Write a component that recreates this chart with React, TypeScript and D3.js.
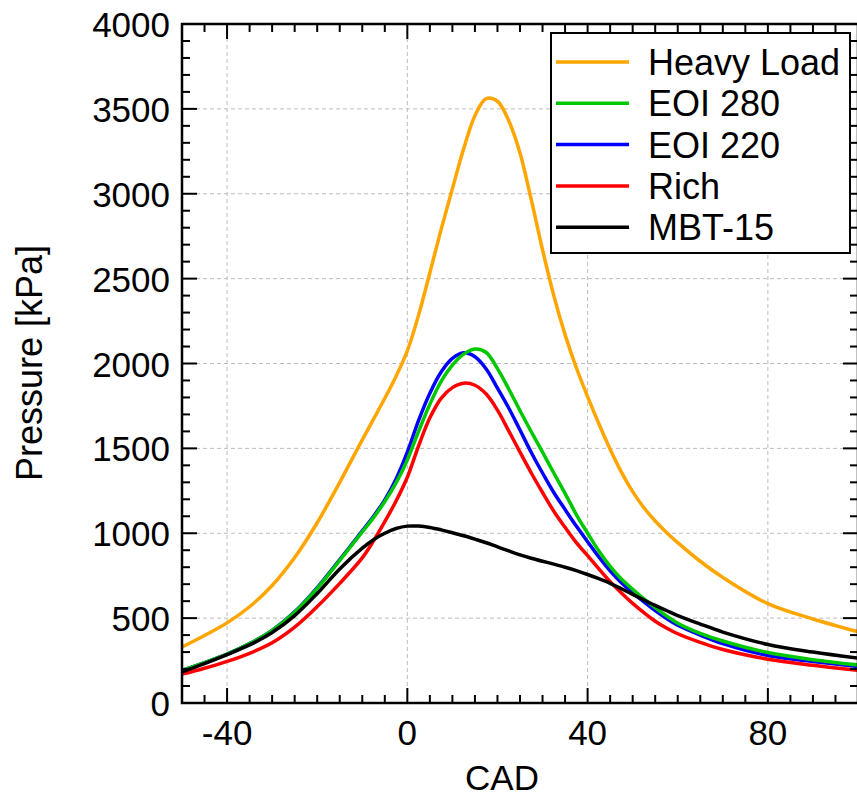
import * as d3 from 'd3';
import { useEffect, useRef } from 'react';

// crank angle grid (deg)
const cad = [-50, -45, -40, -35, -30, -25, -20, -15, -10, -7.5, -5, -2.5, 0, 2.5, 5, 7.5, 10, 12.5, 15, 17.5, 20, 22.5, 25, 27.5, 30, 32.5, 35, 37.5, 40, 42.5, 45, 47.5, 50, 52.5, 55, 57.5, 60, 65, 70, 80, 90, 100];

// pressure [kPa] per case
const heavyLoad = [330, 398, 472, 567, 692, 857, 1062, 1300, 1550, 1672, 1795, 1925, 2075, 2285, 2535, 2790, 3030, 3265, 3460, 3560, 3545, 3430, 3240, 2965, 2670, 2400, 2170, 1975, 1805, 1645, 1495, 1360, 1245, 1150, 1072, 1005, 945, 835, 740, 585, 495, 420];
const eoi280 = [192, 238, 288, 350, 428, 535, 675, 840, 1008, 1092, 1187, 1297, 1432, 1600, 1760, 1895, 1990, 2055, 2085, 2065, 1970, 1850, 1722, 1598, 1478, 1355, 1235, 1110, 1000, 895, 805, 730, 670, 613, 562, 513, 470, 410, 365, 297, 255, 224];
const eoi220 = [192, 238, 288, 350, 428, 537, 680, 845, 1014, 1100, 1197, 1320, 1478, 1665, 1825, 1950, 2030, 2063, 2040, 1968, 1855, 1738, 1608, 1476, 1355, 1240, 1140, 1042, 950, 860, 778, 708, 650, 595, 544, 498, 458, 400, 350, 280, 245, 214];
const rich = [170, 205, 245, 293, 355, 447, 568, 705, 855, 955, 1068, 1190, 1330, 1515, 1680, 1795, 1858, 1884, 1872, 1820, 1725, 1603, 1478, 1355, 1240, 1130, 1035, 945, 868, 790, 715, 648, 587, 532, 482, 442, 408, 357, 315, 258, 222, 192];
const mbt15 = [184, 232, 285, 342, 415, 515, 645, 790, 912, 962, 1000, 1028, 1042, 1042, 1034, 1020, 1003, 985, 965, 944, 920, 896, 873, 853, 835, 818, 800, 780, 757, 732, 705, 673, 640, 607, 575, 545, 515, 465, 418, 345, 300, 264];

const seriesNames = ['Heavy Load', 'EOI 280', 'EOI 220', 'Rich', 'MBT-15'];
const seriesColors = ['#FFA500', '#00C800', '#0000FF', '#FF0000', '#000000'];
const seriesValues = [heavyLoad, eoi280, eoi220, rich, mbt15];
const drawOrder = [0, 2, 1, 3, 4];

const xLabelTicks = [-40, 0, 40, 80];
const yLabelTicks = [0, 500, 1000, 1500, 2000, 2500, 3000, 3500, 4000];

const FONT = 'Liberation Sans, Arial, sans-serif';

const PressureChart = () => {
  const ref = useRef(null);

  useEffect(() => {
    const W = 857,
      H = 798;
    const left = 182,
      right = 858,
      top = 24,
      bottom = 703;

    const svg = d3.select(ref.current).attr('width', W).attr('height', H);
    svg.selectAll('*').remove();

    const x = d3.scaleLinear().domain([-50, 100]).range([left, right]);
    const y = d3.scaleLinear().domain([0, 4000]).range([bottom, top]);

    svg
      .append('defs')
      .append('clipPath')
      .attr('id', 'plotclip')
      .append('rect')
      .attr('x', left)
      .attr('y', top)
      .attr('width', right - left)
      .attr('height', bottom - top);

    // grid
    const grid = svg.append('g');
    xLabelTicks.forEach((t) => {
      grid
        .append('line')
        .attr('x1', x(t))
        .attr('x2', x(t))
        .attr('y1', top)
        .attr('y2', bottom)
        .attr('stroke', '#bdbdbd')
        .attr('stroke-width', 1)
        .attr('stroke-dasharray', '4,3');
    });
    yLabelTicks.slice(1, -1).forEach((t) => {
      grid
        .append('line')
        .attr('x1', left)
        .attr('x2', right)
        .attr('y1', y(t))
        .attr('y2', y(t))
        .attr('stroke', '#bdbdbd')
        .attr('stroke-width', 1)
        .attr('stroke-dasharray', '4,3');
    });

    // curves
    const line = d3
      .line()
      .x((d) => x(d[0]))
      .y((d) => y(d[1]))
      .curve(d3.curveCatmullRom.alpha(0.5));

    const curves = svg.append('g').attr('clip-path', 'url(#plotclip)');
    drawOrder.forEach((i) => {
      const pts = cad.map((c, k) => [c, seriesValues[i][k]]);
      curves
        .append('path')
        .attr('d', line(pts))
        .attr('fill', 'none')
        .attr('stroke', seriesColors[i])
        .attr('stroke-width', 3.5)
        .attr('stroke-linejoin', 'round');
    });

    // ticks on all four sides, pointing inward
    const ticks = svg.append('g').attr('stroke', 'black').attr('stroke-width', 2);
    d3.range(-50, 101, 5).forEach((t) => {
      const len = xLabelTicks.includes(t) ? 15 : 8;
      ticks.append('line').attr('x1', x(t)).attr('x2', x(t)).attr('y1', bottom).attr('y2', bottom - len);
      ticks.append('line').attr('x1', x(t)).attr('x2', x(t)).attr('y1', top).attr('y2', top + len);
    });
    d3.range(0, 4001, 100).forEach((t) => {
      const len = t % 500 === 0 ? 15 : 8;
      ticks.append('line').attr('x1', left).attr('x2', left + len).attr('y1', y(t)).attr('y2', y(t));
      ticks.append('line').attr('x1', right).attr('x2', right - len).attr('y1', y(t)).attr('y2', y(t));
    });

    // frame
    svg
      .append('rect')
      .attr('x', left)
      .attr('y', top)
      .attr('width', right - left)
      .attr('height', bottom - top)
      .attr('fill', 'none')
      .attr('stroke', 'black')
      .attr('stroke-width', 2.5);

    // tick labels
    xLabelTicks.forEach((t) => {
      svg
        .append('text')
        .attr('x', x(t))
        .attr('y', 745)
        .attr('text-anchor', 'middle')
        .style('font-family', FONT)
        .style('font-size', '35px')
        .text(t);
    });
    yLabelTicks.forEach((t) => {
      svg
        .append('text')
        .attr('x', 170)
        .attr('y', y(t) + 13)
        .attr('text-anchor', 'end')
        .style('font-family', FONT)
        .style('font-size', '35px')
        .text(t);
    });

    // axis titles
    svg
      .append('text')
      .attr('x', 502)
      .attr('y', 790)
      .attr('text-anchor', 'middle')
      .style('font-family', FONT)
      .style('font-size', '35px')
      .text('CAD');
    svg
      .append('text')
      .attr('transform', 'translate(42, 363) rotate(-90)')
      .attr('text-anchor', 'middle')
      .style('font-family', FONT)
      .style('font-size', '36px')
      .text('Pressure [kPa]');

    // legend
    const lg = svg.append('g');
    lg.append('rect')
      .attr('x', 551)
      .attr('y', 33)
      .attr('width', 299)
      .attr('height', 220)
      .attr('fill', 'white')
      .attr('stroke', 'black')
      .attr('stroke-width', 2);
    seriesNames.forEach((name, i) => {
      const cy = 62 + i * 41.3;
      lg.append('line')
        .attr('x1', 556)
        .attr('x2', 629)
        .attr('y1', cy)
        .attr('y2', cy)
        .attr('stroke', seriesColors[i])
        .attr('stroke-width', 3.5);
      lg.append('text')
        .attr('x', 648)
        .attr('y', cy + 13)
        .style('font-family', FONT)
        .style('font-size', '36px')
        .text(name);
    });
  }, []);

  return <svg ref={ref}></svg>;
};

export default function App() {
  return (
    <div style={{ position: 'absolute', left: 0, top: 0 }}>
      <PressureChart />
    </div>
  );
}
